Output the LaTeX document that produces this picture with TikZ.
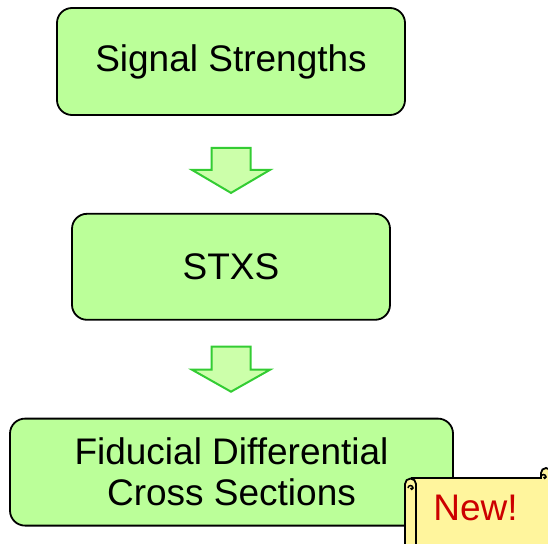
\documentclass[tikz,border=0pt]{standalone}
\usepackage{fontspec}
\setmainfont{Liberation Sans}
\usepackage{tikz}
\usetikzlibrary{positioning,calc}
\definecolor{boxGreen}{HTML}{BBFF99}
\definecolor{arrGreen}{HTML}{CCFFAA}
\definecolor{arrEdge}{HTML}{33CC33}
\definecolor{scrollYel}{HTML}{FFF59D}
\definecolor{newRed}{HTML}{CC0000}

\begin{document}
\begin{tikzpicture}[x=1pt, y=-1pt, font=\fontsize{37}{41}\selectfont, node distance=97pt,
  box/.style={draw, line width=1.8pt, rounded corners=15pt, fill=boxGreen, align=center, minimum height=107pt, inner sep=0pt},
  blk/.style={draw=arrEdge, line width=2pt, fill=arrGreen, line join=miter},
  scr/.style={draw, line width=1.8pt, fill=scrollYel}]
\useasboundingbox (0,0) rectangle (548,543);
\node[box, minimum width=348pt] (signal) at (231,61.5) {Signal Strengths};
\node[box, minimum width=318pt, minimum height=106pt, below=of signal] (stxs) {STXS};
\node[box, minimum width=443pt, below=of stxs, xshift=0.5pt] (fiducial) {Fiducial Differential\\Cross Sections};
% block arrows between the boxes
\draw[blk] ($(signal.south)+(-19.5,32)$) -- ++(39,0) -- ++(0,22) -- ++(19.5,0)
  -- ++(-39,23) -- ++(-39,-23) -- ++(19.5,0) -- cycle;
\draw[blk] ($(stxs.south)+(-19.5,26)$) -- ++(39,0) -- ++(0,23) -- ++(19.5,0)
  -- ++(-39,22) -- ++(-39,-22) -- ++(19.5,0) -- cycle;
% the New! scroll
\begin{scope}
\clip (0,0) rectangle (548,543);
\draw[scr] (412,478) -- (541,478) -- (541,473) arc[start angle=180, end angle=360, radius=5] -- (551,560) -- (412,560) -- cycle;
\draw[line width=1.5pt] (541,477) arc[start angle=180, end angle=360, radius=2.5] arc[start angle=0, end angle=180, radius=1.25];
\draw[scr] (405,560) -- (405,484) arc[start angle=180, end angle=360, radius=5.5] -- (416,560) -- cycle;
\draw[line width=1.5pt] (408,488) arc[start angle=180, end angle=360, radius=2.5] arc[start angle=0, end angle=180, radius=1.25];
\end{scope}
\node[text=newRed, inner sep=0pt] (new) at (475.5,508) {New!};
\end{tikzpicture}
\end{document}
